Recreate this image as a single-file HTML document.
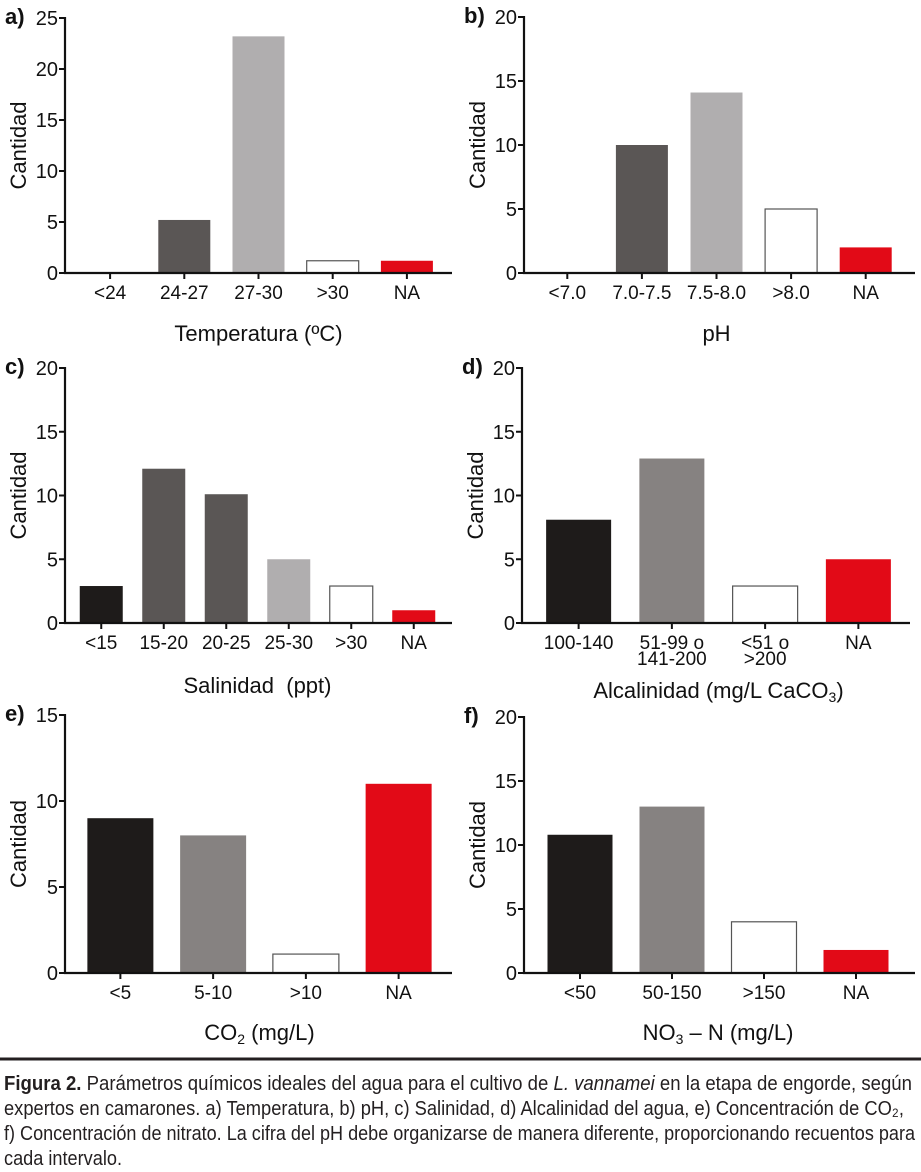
<!DOCTYPE html>
<html><head><meta charset="utf-8"><style>
html,body{margin:0;padding:0;background:#fff;}
svg{display:block;font-family:"Liberation Sans",Arial,sans-serif;}
.cap{font-family:"Liberation Sans Narrow","Liberation Sans",sans-serif;font-size:20px;fill:#231f20;}
</style></head><body>
<svg id="fig" width="921" height="1172" viewBox="0 0 921 1172">
<g id="charts"></g>
<line x1="0" y1="1059" x2="921" y2="1059" stroke="#231f20" stroke-width="3"/>
<g>
<text class="cap" x="4" y="1090" textLength="908" lengthAdjust="spacingAndGlyphs"><tspan font-weight="bold">Figura 2.</tspan> Parámetros químicos ideales del agua para el cultivo de <tspan font-style="italic">L. vannamei</tspan> en la etapa de engorde, según</text>
<text class="cap" x="4" y="1115" textLength="900" lengthAdjust="spacingAndGlyphs">expertos en camarones. a) Temperatura, b) pH, c) Salinidad, d) Alcalinidad del agua, e) Concentración de CO₂,</text>
<text class="cap" x="4" y="1140" textLength="911" lengthAdjust="spacingAndGlyphs">f) Concentración de nitrato. La cifra del pH debe organizarse de manera diferente, proporcionando recuentos para</text>
<text class="cap" x="4" y="1165" textLength="118" lengthAdjust="spacingAndGlyphs">cada intervalo.</text>
</g>
</svg>
<script>
// Data
const catsA = ["<24","24-27","27-30",">30","NA"];
const valsA = [0,5.2,23.2,1.2,1.2];
const catsB = ["<7.0","7.0-7.5","7.5-8.0",">8.0","NA"];
const valsB = [0,10,14.1,5,2];
const catsC = ["<15","15-20","20-25","25-30",">30","NA"];
const valsC = [2.9,12.1,10.1,5,2.9,1];
const catsD = ["100-140","51-99 o|141-200","<51 o|>200","NA"];
const valsD = [8.1,12.9,2.9,5];
const catsE = ["<5","5-10",">10","NA"];
const valsE = [9,8,1.1,11];
const catsF = ["<50","50-150",">150","NA"];
const valsF = [10.8,13,4,1.8];
const ticksA = [0,5,10,15,20,25];
const ticks20 = [0,5,10,15,20];
const ticksE = [0,5,10,15];

const DK="#1e1b1a", MG="#5a5655", G="#868281", LG="#b0aeaf", W="#ffffff", R="#e20a17";
const NS="http://www.w3.org/2000/svg";
const root=document.getElementById('charts');
function el(tag,attrs,parent){const e=document.createElementNS(NS,tag);for(const k in attrs)e.setAttribute(k,attrs[k]);(parent||root).appendChild(e);return e;}

function panel(p){
  const g=el('g',{});
  
  
  const ymax=p.ticks[p.ticks.length-1];
  const y=v=>p.y0-(p.y0-p.yTop)*v/ymax;
  const n=p.cats.length, bw=(p.xe-p.xs)/n;
  const cx=i=>p.xs+bw*(i+0.5);
  p.vals.forEach((v,i)=>{
    const w=p.barW, h=p.y0-y(v);
    const r=el('rect',{x:cx(i)-w/2,y:y(v),width:w,height:Math.max(h,0),fill:p.colors[i],stroke:p.colors[i]===W?'#555':'none','stroke-width':1.2},g);
    
    
  });
  const ax=el('path',{d:`M${p.ax},${y(ymax)-1}V${p.y0}H${p.axEnd}`,stroke:'#111','stroke-width':2.2,fill:'none'},g);
  
  
  p.ticks.forEach(t=>{
    el('line',{x1:p.ax-6,x2:p.ax,y1:y(t),y2:y(t),stroke:'#111','stroke-width':2},g);
    const tx=el('text',{x:p.ax-7,y:y(t)+7,'text-anchor':'end','font-size':20,fill:'#111'},g);
    tx.textContent=t;
    
    
  });
  p.cats.forEach((c,i)=>{
    el('line',{x1:cx(i),x2:cx(i),y1:p.y0,y2:p.y0+6,stroke:'#111','stroke-width':2},g);
    const parts=c.split('|');
    parts.forEach((s,j)=>{
      const tx=el('text',{x:cx(i),y:p.y0+26+j*16,'text-anchor':'middle','font-size':19,fill:'#111'},g);
      tx.textContent=s;
      
      
    });
  });
  const yl=el('text',{transform:`translate(${p.ax-39},${(p.y0+y(ymax))/2}) rotate(-90)`,'text-anchor':'middle','font-size':22,fill:'#111'},g);
  yl.textContent='Cantidad';
  
  
  const xt=el('text',{x:(p.xs+p.xe)/2,y:p.titleY,'text-anchor':'middle','font-size':22,fill:'#111'},g);
  xt.innerHTML=p.title;
  
  
  const lt=el('text',{x:p.ax-60,y:y(ymax)+6,'font-size':22,'font-weight':'bold',fill:'#111'},g);
  lt.textContent=p.id+')';
  
  
}

panel({id:'a',cats:catsA,vals:valsA,ticks:ticksA,colors:[W,MG,LG,W,R],ax:65,axEnd:452,y0:273,yTop:18,xs:73,xe:444,barW:52,title:'Temperatura (ºC)',titleY:341});
panel({id:'b',cats:catsB,vals:valsB,ticks:ticks20,colors:[W,MG,LG,W,R],ax:524,axEnd:915,y0:273,yTop:17,xs:530,xe:903,barW:52,title:'pH',titleY:341});
panel({id:'c',cats:catsC,vals:valsC,ticks:ticks20,colors:[DK,MG,MG,LG,W,R],ax:65,axEnd:452,y0:623,yTop:368,xs:70,xe:445,barW:43,title:'Salinidad&#160;&#160;(ppt)',titleY:693});
panel({id:'d',cats:catsD,vals:valsD,ticks:ticks20,colors:[DK,G,W,R],ax:522,axEnd:910,y0:623,yTop:368,xs:532,xe:905,barW:65,title:'Alcalinidad (mg/L CaCO<tspan font-size="14" dy="4">3</tspan><tspan dy="-4">)</tspan>',titleY:698});
panel({id:'e',cats:catsE,vals:valsE,ticks:ticksE,colors:[DK,G,W,R],ax:65,axEnd:452,y0:973,yTop:715,xs:74,xe:445,barW:66,title:'CO<tspan font-size="14" dy="4">2</tspan><tspan dy="-4"> (mg/L)</tspan>',titleY:1040});
panel({id:'f',cats:catsF,vals:valsF,ticks:ticks20,colors:[DK,G,W,R],ax:524,axEnd:915,y0:973,yTop:717,xs:534,xe:902,barW:65,title:'NO<tspan font-size="14" dy="4">3</tspan><tspan dy="-4"> – N (mg/L)</tspan>',titleY:1040});
</script>
</body></html>
